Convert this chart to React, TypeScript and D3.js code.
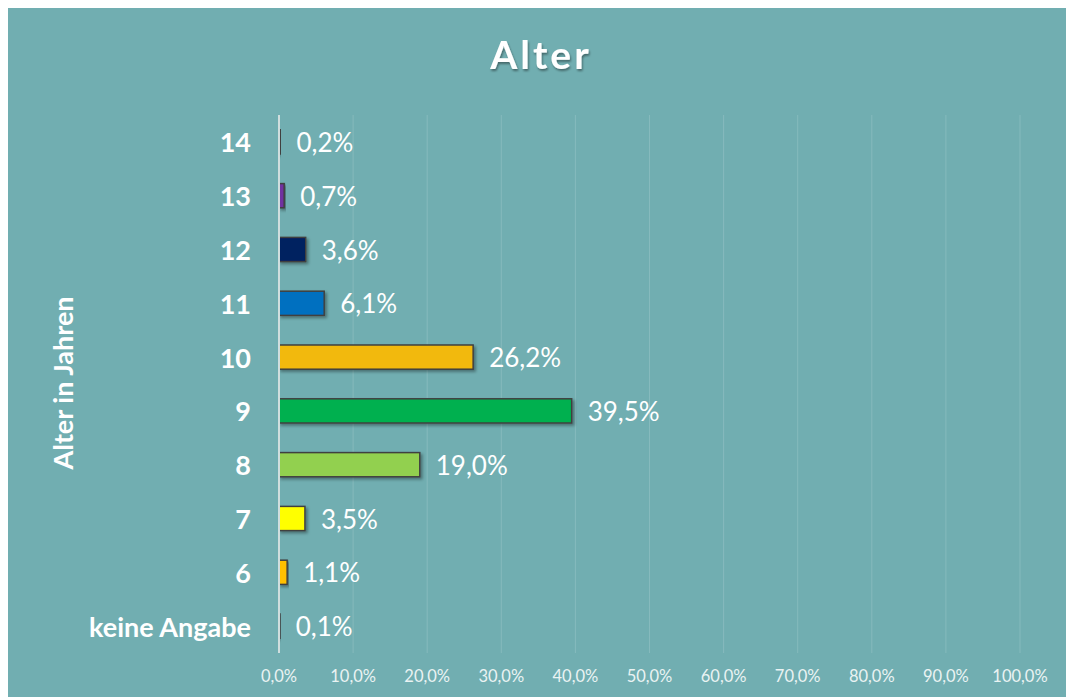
import React from "react";
import * as d3 from "d3";

const categories = ["14", "13", "12", "11", "10", "9", "8", "7", "6", "keine Angabe"];
const values = [0.2, 0.7, 3.6, 6.1, 26.2, 39.5, 19.0, 3.5, 1.1, 0.1];
const barColors = ["#8c8c8c", "#7030a0", "#002060", "#0070c0", "#f2b90c", "#00b050", "#92d050", "#ffff00", "#ffc000", "#8c8c8c"];
const xTicks = [0, 10, 20, 30, 40, 50, 60, 70, 80, 90, 100];

const W = 1058;
const H = 689;
const fmt = (v: number) => v.toFixed(1).replace(".", ",") + "%";
const font = "Lato, 'Open Sans', sans-serif";

export default function App() {
  const x = d3.scaleLinear().domain([0, 100]).range([271, 1012]);
  const y = d3.scaleBand<string>().domain(categories).range([107, 645]).paddingInner(0.55).paddingOuter(0.275);
  return (
    <svg width={W} height={H} style={{ display: "block", position: "fixed", left: 8, top: 8 }}>
      <defs>
        <filter id="sh" x="-20%" y="-20%" width="140%" height="160%">
          <feDropShadow dx="2" dy="2" stdDeviation="1.5" floodColor="#000" floodOpacity="0.35" />
        </filter>
        <filter id="tsh" x="-20%" y="-20%" width="140%" height="160%">
          <feDropShadow dx="1" dy="2" stdDeviation="1.2" floodColor="#000" floodOpacity="0.4" />
        </filter>
      </defs>
      <rect x={0} y={0} width={W} height={H} fill="#71aeb1" />
      <text x={533} y={51} textAnchor="middle" dominantBaseline="middle" fill="#fff" fontFamily={font} fontWeight="bold" fontSize={39} letterSpacing={3} filter="url(#tsh)">Alter</text>
      {xTicks.slice(1).map((t) => (
        <line key={t} x1={x(t)} x2={x(t)} y1={107} y2={645} stroke="#86babd" strokeWidth={1} />
      ))}
      {categories.map((c, i) => (
        <g key={c}>
          <rect x={x(0)} y={y(c)} width={Math.max(x(values[i]) - x(0), 1)} height={y.bandwidth()} fill={barColors[i]} stroke="#404040" strokeWidth={1.5} filter="url(#sh)" />
          <text x={x(values[i]) + 16} y={(y(c) as number) + y.bandwidth() / 2} dominantBaseline="central" fill="#fff" fontFamily={font} fontSize={26}>{fmt(values[i])}</text>
          <text x={243} y={(y(c) as number) + y.bandwidth() / 2} dominantBaseline="central" textAnchor="end" fill="#fff" fontFamily={font} fontWeight="bold" fontSize={27}>{c}</text>
        </g>
      ))}
      <line x1={x(0)} x2={x(0)} y1={107} y2={645} stroke="#d0dede" strokeWidth={2} />
      {xTicks.map((t) => (
        <text key={t} x={x(t)} y={668} textAnchor="middle" dominantBaseline="central" fill="#eaf3f3" fontFamily={font} fontSize={16.5}>{fmt(t)}</text>
      ))}
      <text transform={`translate(54,375) rotate(-90)`} textAnchor="middle" dominantBaseline="central" fill="#fff" fontFamily={font} fontWeight="bold" fontSize={27}>Alter in Jahren</text>
    </svg>
  );
}
